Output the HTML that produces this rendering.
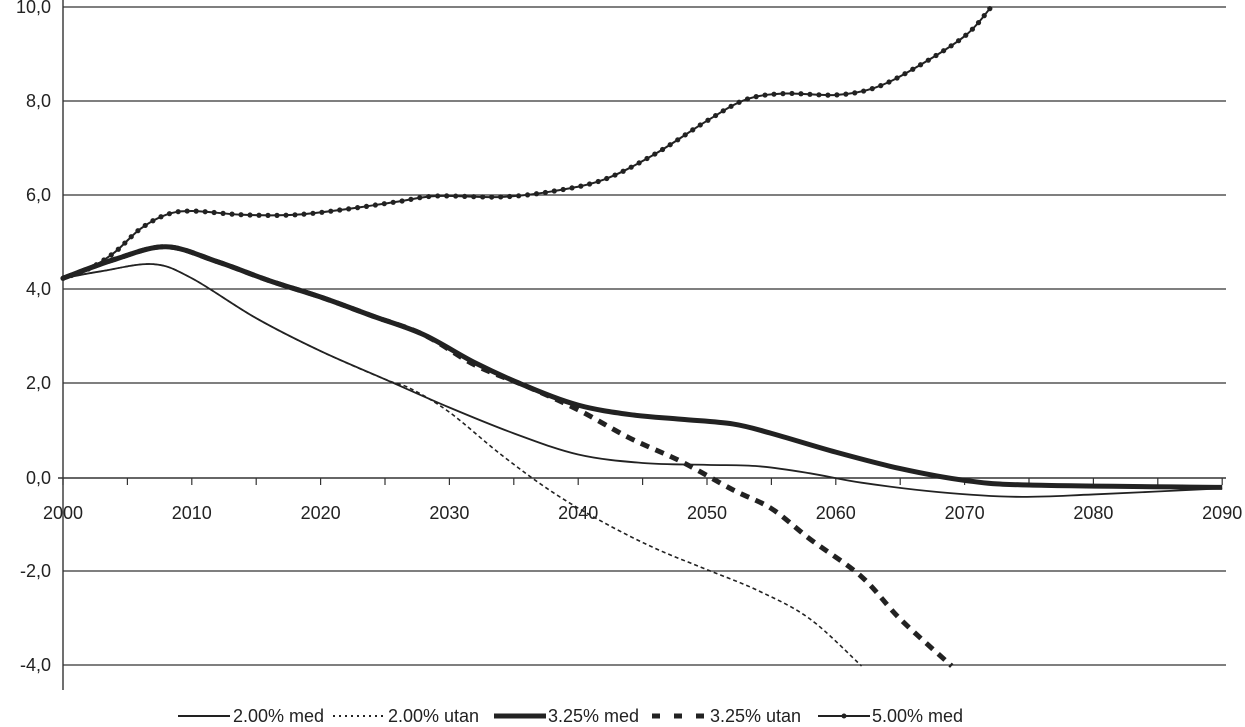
<!DOCTYPE html>
<html><head><meta charset="utf-8"><style>
html,body{margin:0;padding:0;background:#fff;}
svg{display:block;font-family:"Liberation Sans",Arial,sans-serif;}
</style></head><body>
<svg id="s" width="1245" height="727" viewBox="0 0 1245 727">
<g stroke="#333" stroke-width="1.2">
<line x1="63" y1="7" x2="1226" y2="7"/>
<line x1="63" y1="101" x2="1226" y2="101"/>
<line x1="63" y1="195" x2="1226" y2="195"/>
<line x1="63" y1="289" x2="1226" y2="289"/>
<line x1="63" y1="383" x2="1226" y2="383"/>
<line x1="63" y1="571" x2="1226" y2="571"/>
<line x1="63" y1="665" x2="1226" y2="665"/>
<line x1="58" y1="478" x2="1226" y2="478" stroke-width="1.6"/>
<line x1="63" y1="0" x2="63" y2="690" stroke-width="1.4"/>
</g>
<g id="ticks" stroke="#333" stroke-width="1.2"></g>
<g font-size="18" fill="#222" text-anchor="end">
<text x="51" y="13">10,0</text><text x="51" y="107">8,0</text><text x="51" y="201">6,0</text>
<text x="51" y="295">4,0</text><text x="51" y="389">2,0</text><text x="51" y="484">0,0</text>
<text x="51" y="577">-2,0</text><text x="51" y="671">-4,0</text>
</g>
<g id="xl" font-size="18" fill="#222" text-anchor="middle"></g>
<g id="series" fill="none" stroke="#222"></g>
<g font-size="18" fill="#222">
<line x1="178" y1="716" x2="230" y2="716" stroke="#222" stroke-width="2"/>
<text x="233" y="722">2.00% med</text>
<line x1="333" y1="716" x2="385" y2="716" stroke="#222" stroke-width="2" stroke-dasharray="2,4"/>
<text x="388" y="722">2.00% utan</text>
<line x1="494" y1="716" x2="546" y2="716" stroke="#222" stroke-width="5"/>
<text x="548" y="722">3.25% med</text>
<line x1="652" y1="716" x2="704" y2="716" stroke="#222" stroke-width="5" stroke-dasharray="8,14"/>
<text x="710" y="722">3.25% utan</text>
<line x1="818" y1="716" x2="870" y2="716" stroke="#222" stroke-width="2"/>
<circle cx="844" cy="716" r="2.5" fill="#222"/>
<text x="872" y="722">5.00% med</text>
</g>
</svg>
<script>
const X=y=>63+12.88*(y-2000), Y=v=>478-47*v;
const ns="http://www.w3.org/2000/svg";
const t=document.getElementById('ticks');
for(let y=2000;y<=2090;y+=5){const l=document.createElementNS(ns,'line');l.setAttribute('x1',X(y));l.setAttribute('x2',X(y));l.setAttribute('y1',478);l.setAttribute('y2',485);t.appendChild(l);}
const xl=document.getElementById('xl');
for(let y=2000;y<=2090;y+=10){const e=document.createElementNS(ns,'text');e.setAttribute('x',X(y));e.setAttribute('y',519);e.textContent=y;xl.appendChild(e);}
function path(p){const q=p.map(a=>[X(a[0]),Y(a[1])]);let d='M'+q[0];for(let i=0;i<q.length-1;i++){const p0=q[i-1]||q[i],p1=q[i],p2=q[i+1],p3=q[i+2]||p2;
d+=' C'+(p1[0]+(p2[0]-p0[0])/6)+','+(p1[1]+(p2[1]-p0[1])/6)+' '+(p2[0]-(p3[0]-p1[0])/6)+','+(p2[1]-(p3[1]-p1[1])/6)+' '+p2;}return d;}
const g=document.getElementById('series');
function add(p,w,da){const e=document.createElementNS(ns,'path');e.setAttribute('d',path(p));e.setAttribute('stroke-width',w);if(da)e.setAttribute('stroke-dasharray',da);g.appendChild(e);return e;}
const m2=[[2000,4.25],[2003,4.4],[2007,4.55],[2010,4.25],[2015,3.4],[2020,2.7],[2025,2.1],[2030,1.5],[2035,0.95],[2040,0.5],[2045,0.32],[2050,0.28],[2054,0.25],[2058,0.1],[2062,-0.1],[2068,-0.3],[2074,-0.4],[2080,-0.35],[2090,-0.22]];
const u2=[[2000,4.25],[2003,4.4],[2007,4.55],[2010,4.25],[2015,3.4],[2020,2.7],[2025,2.1],[2027,1.9],[2030,1.4],[2034,0.5],[2038,-0.3],[2042,-0.95],[2046,-1.5],[2050,-1.95],[2054,-2.4],[2058,-3.0],[2062,-4.0]];
const m3=[[2000,4.25],[2004,4.65],[2008,4.92],[2012,4.6],[2016,4.2],[2020,3.85],[2024,3.45],[2028,3.05],[2032,2.45],[2036,1.95],[2040,1.55],[2044,1.35],[2048,1.25],[2052,1.15],[2055,0.95],[2060,0.55],[2065,0.2],[2070,-0.05],[2075,-0.15],[2090,-0.2]];
const u3=[[2000,4.25],[2004,4.65],[2008,4.92],[2012,4.6],[2016,4.2],[2020,3.85],[2024,3.45],[2028,3.05],[2032,2.4],[2036,1.95],[2040,1.45],[2044,0.85],[2048,0.35],[2052,-0.25],[2055,-0.65],[2058,-1.3],[2062,-2.1],[2065,-3.0],[2069,-4.0]];
const m5=[[2000,4.25],[2002,4.45],[2004,4.8],[2006,5.3],[2008,5.6],[2010,5.68],[2014,5.6],[2018,5.6],[2022,5.72],[2026,5.88],[2029,6.0],[2034,5.98],[2038,6.1],[2042,6.35],[2046,6.9],[2050,7.6],[2053,8.05],[2056,8.18],[2060,8.15],[2063,8.3],[2066,8.7],[2070,9.4],[2072,10.0]];
add(u3,5,'9,7');add(u2,1.6,'4,3');add(m2,1.8);add(m3,5);
const p5=add(m5,2);const L=p5.getTotalLength();
for(let s=0;s<=L;s+=9){const pt=p5.getPointAtLength(s);const c=document.createElementNS(ns,'circle');c.setAttribute('cx',pt.x);c.setAttribute('cy',pt.y);c.setAttribute('r',2.6);c.setAttribute('fill','#222');c.setAttribute('stroke','none');g.appendChild(c);}
</script>
</body></html>
